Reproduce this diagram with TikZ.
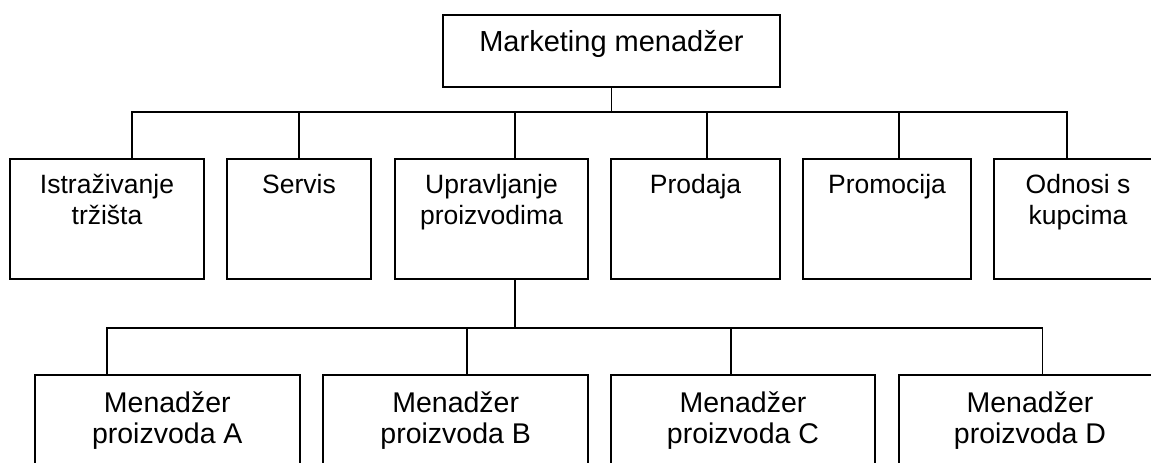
\documentclass[tikz,border=0pt]{standalone}
\usepackage{fontspec}
\setmainfont{Liberation Sans}
\usetikzlibrary{positioning}

\tikzset{
  unit/.style={draw=black, line width=2pt, inner sep=0pt},
  unittext/.style={inner sep=0pt, align=center},
  link/.style={draw=black, line width=1.8pt},
}

\begin{document}
\begin{tikzpicture}[x=1pt,y=-1pt]
\clip (0,0) rectangle (1151,463);

% top
\node[unit, minimum width=337pt, minimum height=72.5pt] (mm) at (611.5,50.75) {};
\node[unittext, below=16.5pt of mm.north, font=\fontsize{29}{33}\selectfont] (mm-t) {Marketing menadžer};

% departments
\node[unit, minimum width=194pt, minimum height=120pt] (ist) at (107,218.7) {};
\node[unit, minimum width=144pt, minimum height=120pt] (ser) at (299,218.7) {};
\node[unit, minimum width=193pt, minimum height=120pt] (upr) at (491.5,218.7) {};
\node[unit, minimum width=169pt, minimum height=120pt] (pro) at (695.5,218.7) {};
\node[unit, minimum width=168pt, minimum height=120pt] (pmc) at (887,218.7) {};
\node[unit, minimum width=168pt, minimum height=120pt] (odn) at (1078,218.7) {};

\node[unittext, below=16.5pt of ist.north, font=\fontsize{26.5}{31}\selectfont] (ist-t) {Istraživanje\\tržišta};
\node[unittext, below=16.5pt of ser.north, font=\fontsize{26.5}{31}\selectfont] (ser-t) {Servis};
\node[unittext, below=16.5pt of upr.north, font=\fontsize{26.5}{31}\selectfont] (upr-t) {Upravljanje\\proizvodima};
\node[unittext, below=16.5pt of pro.north, font=\fontsize{26.5}{31}\selectfont] (pro-t) {Prodaja};
\node[unittext, below=16.5pt of pmc.north, font=\fontsize{26.5}{31}\selectfont] (pmc-t) {Promocija};
\node[unittext, below=16.5pt of odn.north, font=\fontsize{26.5}{31}\selectfont] (odn-t) {Odnosi s\\kupcima};

% product managers
\node[unit, minimum width=264.6pt, minimum height=120pt] (pa) at (167.3,435) {};
\node[unit, minimum width=264.6pt, minimum height=120pt] (pb) at (455.7,435) {};
\node[unit, minimum width=264pt, minimum height=120pt] (pc) at (743,435) {};
\node[unit, minimum width=263pt, minimum height=120pt] (pd) at (1030,435) {};

\node[unittext, below=17.5pt of pa.north, font=\fontsize{28.5}{31.5}\selectfont] (pa-t) {Menadžer\\proizvoda A};
\node[unittext, below=17.5pt of pb.north, font=\fontsize{28.5}{31.5}\selectfont] (pb-t) {Menadžer\\proizvoda B};
\node[unittext, below=17.5pt of pc.north, font=\fontsize{28.5}{31.5}\selectfont] (pc-t) {Menadžer\\proizvoda C};
\node[unittext, below=17.5pt of pd.north, font=\fontsize{28.5}{31.5}\selectfont] (pd-t) {Menadžer\\proizvoda D};

% connectors
\foreach \n/\dx in {ist/24.6, ser/0, upr/23.5, pro/11.5, pmc/11.6, odn/-11.4}
  \draw[link] (mm.south) -- ++(0,23.7) -| ([xshift=\dx pt]\n.north);
\foreach \n/\dx in {pa/-60.3, pb/11.3, pc/-12, pd/12.5}
  \draw[link] ([xshift=23.5pt]upr.south) -- ++(0,48) -| ([xshift=\dx pt]\n.north);
\end{tikzpicture}
\end{document}
